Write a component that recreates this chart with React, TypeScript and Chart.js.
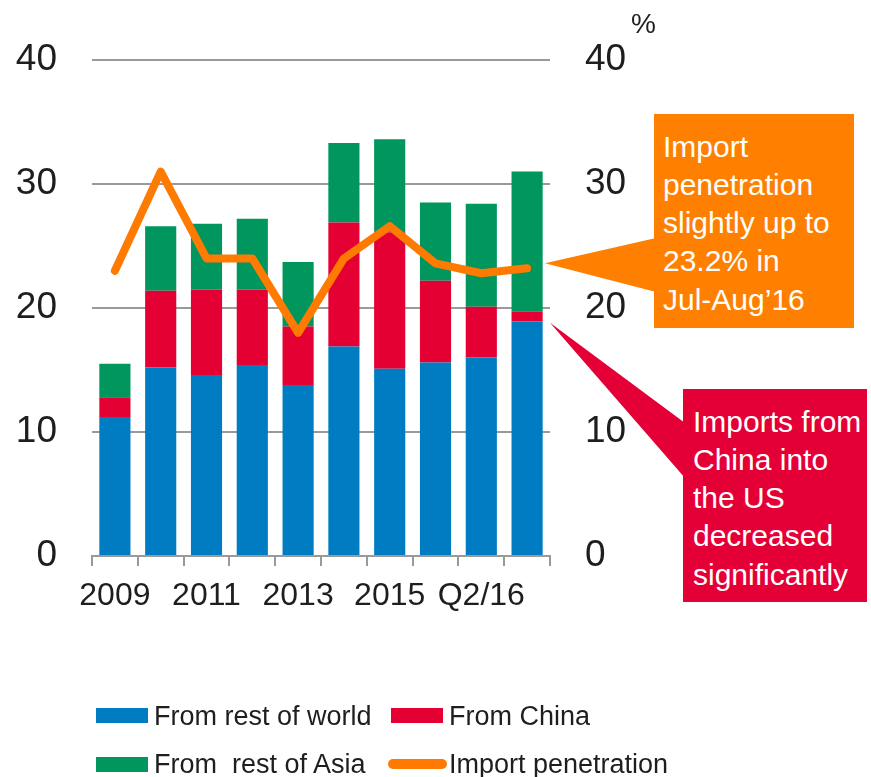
import React, { useEffect, useRef } from "react";
import { Chart, registerables } from "chart.js";

Chart.register(...registerables);

const categories = ["2009", "2010", "2011", "2012", "2013", "2014", "2015", "Q1/16", "Q2/16", "Jul-Aug16"];
const fromRestOfWorld = [11.2, 15.2, 14.6, 15.4, 13.8, 16.9, 15.1, 15.6, 16.0, 18.9];
const fromChina = [1.6, 6.2, 6.9, 6.1, 4.7, 10.0, 11.0, 6.6, 4.1, 0.8];
const fromRestOfAsia = [2.7, 5.2, 5.3, 5.7, 5.2, 6.4, 7.5, 6.3, 8.3, 11.3];
const importPenetration = [23.0, 31.0, 24.0, 24.0, 18.0, 24.0, 26.6, 23.6, 22.8, 23.2];
const yTicks = [0, 10, 20, 30, 40];

const BLUE = "#007DC2";
const RED = "#E40032";
const GREEN = "#00965E";
const ORANGE = "#FF7A00";
const ORANGE_BOX = "#FF7F00";
const RED_BOX = "#E40036";
const GRID = "#9A9A9A";
const TEXT = "#1E1E1E";
const FONT = "'Liberation Sans', Arial, sans-serif";

const calloutPlugin = {
  id: "callouts",
  afterDraw(chart: any) {
    const ctx = chart.ctx;
    const area = chart.chartArea;
    const y = chart.scales.y;
    const y2 = chart.scales.y2;
    const last = categories.length - 1;
    // orange pointer to the last import-penetration point
    const oTipX = area.right - 5;
    const oTipY = y2.getPixelForValue(importPenetration[last]) - 5;
    ctx.save();
    ctx.fillStyle = ORANGE_BOX;
    ctx.beginPath();
    ctx.moveTo(oTipX, oTipY);
    ctx.lineTo(656, 238);
    ctx.lineTo(656, 292);
    ctx.closePath();
    ctx.fill();
    // red pointer to the China segment of the last bar
    const rTipX = area.right;
    const rTipY = y.getPixelForValue(fromRestOfWorld[last]) + 1;
    ctx.fillStyle = RED_BOX;
    ctx.beginPath();
    ctx.moveTo(rTipX, rTipY);
    ctx.lineTo(685, 423);
    ctx.lineTo(685, 478);
    ctx.closePath();
    ctx.fill();
    ctx.restore();
  },
};

export default function App() {
  const canvasRef = useRef<HTMLCanvasElement | null>(null);

  useEffect(() => {
    const canvas = canvasRef.current;
    if (!canvas) return;
    const chart = new Chart(canvas, {
      type: "bar",
      data: {
        labels: categories,
        datasets: [
          {
            type: "line",
            label: "Import penetration",
            data: importPenetration,
            yAxisID: "y2",
            borderColor: ORANGE,
            backgroundColor: ORANGE,
            borderWidth: 8,
            pointRadius: 0,
            tension: 0,
            borderCapStyle: "round",
            borderJoinStyle: "round",
            order: 0,
          } as any,
          {
            label: "From rest of world",
            data: fromRestOfWorld,
            backgroundColor: BLUE,
            stack: "s",
            order: 1,
          },
          {
            label: "From China",
            data: fromChina,
            backgroundColor: RED,
            stack: "s",
            order: 1,
          },
          {
            label: "From  rest of Asia",
            data: fromRestOfAsia,
            backgroundColor: GREEN,
            stack: "s",
            order: 1,
          },
        ],
      },
      options: {
        animation: false,
        responsive: false,
        devicePixelRatio: 1,
        layout: { padding: { left: 0, right: 241, top: 60, bottom: 0 } },
        datasets: { bar: { barPercentage: 0.68, categoryPercentage: 1 } },
        plugins: {
          legend: { display: false },
          tooltip: { enabled: false },
        },
        scales: {
          x: {
            stacked: true,
            offset: true,
            grid: {
              offset: true,
              drawOnChartArea: false,
              drawTicks: true,
              tickLength: 10,
              color: GRID,
              lineWidth: 2,
            },
            border: { display: true, color: GRID, width: 2 },
            ticks: {
              autoSkip: false,
              maxRotation: 0,
              padding: 11,
              color: TEXT,
              font: { family: FONT, size: 32 },
              callback: (_v: any, i: number) => (i % 2 === 0 ? categories[i] : ""),
            },
            afterFit: (s: any) => {
              s.height = 221;
            },
          },
          y: {
            stacked: true,
            min: yTicks[0],
            max: yTicks[yTicks.length - 1],
            afterBuildTicks: (s: any) => {
              s.ticks = yTicks.map((v) => ({ value: v }));
            },
            grid: { color: GRID, lineWidth: 2, drawTicks: false },
            border: { display: false },
            ticks: {
              padding: 35,
              color: TEXT,
              font: { family: FONT, size: 37 },
            },
            afterFit: (s: any) => {
              s.width = 92;
            },
          },
          y2: {
            position: "right",
            min: yTicks[0],
            max: yTicks[yTicks.length - 1],
            afterBuildTicks: (s: any) => {
              s.ticks = yTicks.map((v) => ({ value: v }));
            },
            grid: { display: false, drawTicks: false },
            border: { display: false },
            ticks: {
              padding: 35,
              color: TEXT,
              font: { family: FONT, size: 37 },
            },
            afterFit: (s: any) => {
              s.width = 80;
            },
          },
        },
      },
      plugins: [calloutPlugin],
    });
    return () => chart.destroy();
  }, []);

  const text = (content: string, left: number, center: number, size: number) => (
    <div
      style={{
        position: "absolute",
        left,
        top: center - size / 2,
        fontSize: size,
        lineHeight: `${size}px`,
        fontFamily: FONT,
        color: TEXT,
        whiteSpace: "pre",
      }}
    >
      {content}
    </div>
  );

  const swatch = (color: string, left: number, top: number) => (
    <div style={{ position: "absolute", left, top, width: 52, height: 15, background: color }} />
  );

  const boxText = (lines: string[]) =>
    lines.map((l, i) => (
      <div key={i} style={{ height: 38.3, lineHeight: "38.3px", whiteSpace: "pre" }}>
        {l}
      </div>
    ));

  return (
    <div style={{ position: "absolute", left: 0, top: 0, width: 871, height: 777, overflow: "hidden", background: "#fff" }}>
      <canvas ref={canvasRef} width={871} height={777} style={{ position: "absolute", left: 0, top: 0, width: 871, height: 777 }} />
      <div
        style={{
          position: "absolute",
          left: 631,
          top: 10,
          fontFamily: FONT,
          fontSize: 28,
          lineHeight: "28px",
          color: TEXT,
        }}
      >
        %
      </div>
      <div
        style={{
          position: "absolute",
          left: 654,
          top: 114,
          width: 200,
          height: 214,
          boxSizing: "border-box",
          padding: "13.5px 0 0 9px",
          background: ORANGE_BOX,
          color: "#fff",
          fontFamily: FONT,
          fontSize: 30,
        }}
      >
        {boxText(["Import", "penetration", "slightly up to", "23.2% in", "Jul-Aug\u201916"])}
      </div>
      <div
        style={{
          position: "absolute",
          left: 683,
          top: 389,
          width: 184,
          height: 213,
          boxSizing: "border-box",
          padding: "13.5px 0 0 10px",
          background: RED_BOX,
          color: "#fff",
          fontFamily: FONT,
          fontSize: 30,
        }}
      >
        {boxText(["Imports from", "China into", "the US", "decreased", "significantly"])}
      </div>
      {swatch(BLUE, 96, 708)}
      {text("From rest of world", 154, 716, 27)}
      {swatch(RED, 391, 708)}
      {text("From China", 449, 716, 27)}
      {swatch(GREEN, 96, 757)}
      {text("From  rest of Asia", 154, 764, 27)}
      <div style={{ position: "absolute", left: 388, top: 759, width: 59, height: 10, borderRadius: 5, background: ORANGE }} />
      {text("Import penetration", 449, 764, 27)}
    </div>
  );
}
